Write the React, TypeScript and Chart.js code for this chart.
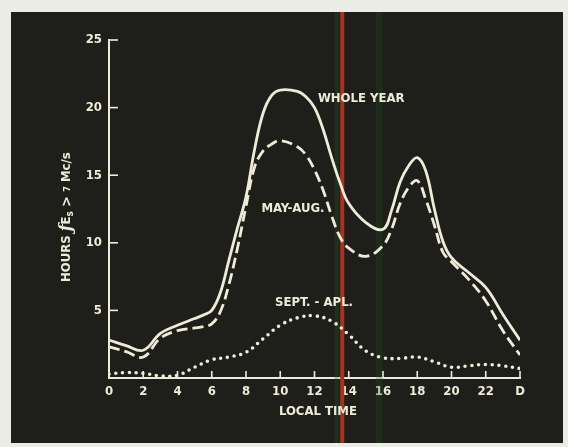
import React, { useEffect, useRef } from 'react';
import { Chart, registerables } from 'chart.js';

Chart.register(...registerables);

// Local time (hours) for the two upper curves
const hoursMain = [0, 1, 2, 3, 4, 5, 5.5, 6, 6.5, 7, 7.5, 8, 8.5, 9, 9.5, 10, 11, 11.5, 12, 12.5, 13, 13.5, 14, 15, 16, 16.5, 17, 17.5, 18, 18.5, 19, 19.5, 20, 21, 22, 23, 24];
const wholeYear = [2.8, 2.4, 2.05, 3.3, 3.9, 4.4, 4.65, 5.0, 6.3, 8.7, 11.1, 13.4, 16.9, 19.6, 20.9, 21.3, 21.2, 20.8, 20.0, 18.4, 16.3, 14.4, 12.9, 11.5, 11.0, 12.4, 14.5, 15.7, 16.3, 15.3, 12.5, 10.1, 8.9, 7.8, 6.7, 4.7, 2.8];
const mayAug = [2.3, 1.95, 1.55, 2.95, 3.5, 3.7, 3.8, 4.0, 4.9, 6.9, 9.6, 12.7, 15.6, 16.8, 17.3, 17.55, 17.1, 16.5, 15.4, 13.9, 12.0, 10.4, 9.6, 9.0, 9.8, 11.0, 12.9, 14.1, 14.6, 13.2, 11.3, 9.3, 8.6, 7.3, 5.7, 3.5, 1.7];

// Hourly for the dotted curve
const hoursSept = [0, 1, 2, 3, 4, 5, 6, 7, 8, 9, 10, 11, 12, 13, 14, 15, 16, 17, 18, 19, 20, 21, 22, 23, 24];
const septApl = [0.3, 0.4, 0.35, 0.15, 0.2, 0.8, 1.35, 1.55, 1.9, 2.9, 3.9, 4.45, 4.6, 4.2, 3.2, 2.0, 1.5, 1.45, 1.55, 1.2, 0.8, 0.9, 1.0, 0.9, 0.7];

const xTickLabels: Record<number, string> = { 0: '0', 2: '2', 4: '4', 6: '6', 8: '8', 10: '10', 12: '12', 14: '14', 16: '16', 18: '18', 20: '20', 22: '22', 24: 'D' };
const yTickValues = [5, 10, 15, 20, 25];

const seriesLabels = ['WHOLE YEAR', 'MAY-AUG.', 'SEPT. - APL.'];

const INK = '#efebd9';
const FONT = "'DejaVu Sans Condensed', 'DejaVu Sans', sans-serif";

function toXY(xs: number[], ys: number[]) {
  return xs.map((x, i) => ({ x, y: ys[i] }));
}

const decorPlugin = {
  id: 'decor',
  beforeDatasetsDraw(chart: any) {
    const { ctx, scales } = chart;
    const xs = scales.x;
    const h = chart.height;
    ctx.save();
    // scan artefacts (vertical colour streaks)
    ctx.fillStyle = 'rgba(40,90,40,0.3)';
    ctx.fillRect(xs.getPixelForValue(13.3) - 2, 0, 4, h);
    ctx.fillStyle = '#a8321f';
    ctx.fillRect(xs.getPixelForValue(13.62) - 2, 0, 4, h);
    ctx.fillStyle = 'rgba(35,85,35,0.25)';
    ctx.fillRect(xs.getPixelForValue(15.75) - 3, 0, 7, h);
    ctx.restore();
  },
  afterDraw(chart: any) {
    const { ctx, scales, chartArea } = chart;
    const xs = scales.x;
    const ys = scales.y;
    ctx.save();
    ctx.strokeStyle = INK;
    ctx.lineWidth = 1.6;
    // inward tick marks
    Object.keys(xTickLabels).map(Number).forEach((v) => {
      if (v === 0) return;
      const px = xs.getPixelForValue(v);
      ctx.beginPath();
      ctx.moveTo(px, chartArea.bottom);
      ctx.lineTo(px, chartArea.bottom - 7);
      ctx.stroke();
    });
    yTickValues.forEach((v) => {
      const py = ys.getPixelForValue(v);
      ctx.beginPath();
      ctx.moveTo(chartArea.left, py);
      ctx.lineTo(chartArea.left + 9, py);
      ctx.stroke();
    });

    ctx.fillStyle = INK;
    // axis titles
    ctx.font = `bold 13px ${FONT}`;
    ctx.textAlign = 'center';
    ctx.textBaseline = 'middle';
    ctx.fillText('LOCAL TIME', xs.getPixelForValue(12.2), chartArea.bottom + 34);

    // rotated y title with rich parts
    const parts = [
      { t: 'HOURS ', f: `bold 13px ${FONT}`, dy: 0 },
      { t: 'ƒ', f: `italic bold 16px 'DejaVu Serif', serif`, dy: 0 },
      { t: 'E', f: `bold 13px ${FONT}`, dy: 0 },
      { t: 's', f: `bold 10px ${FONT}`, dy: 3 },
      { t: ' > ', f: `bold 14px ${FONT}`, dy: 0 },
      { t: '7', f: `bold 9px ${FONT}`, dy: 1 },
      { t: ' Mc/s', f: `bold 13px ${FONT}`, dy: 0 },
    ];
    let total = 0;
    parts.forEach((p) => { ctx.font = p.f; total += ctx.measureText(p.t).width; });
    ctx.translate(chartArea.left - 42, ys.getPixelForValue(11.9));
    ctx.rotate(-Math.PI / 2);
    ctx.textAlign = 'left';
    let cx = -total / 2;
    parts.forEach((p) => {
      ctx.font = p.f;
      ctx.fillText(p.t, cx, p.dy);
      cx += ctx.measureText(p.t).width;
    });
    ctx.restore();

    // curve labels
    ctx.save();
    ctx.fillStyle = INK;
    ctx.font = `bold 13px ${FONT}`;
    ctx.textAlign = 'left';
    ctx.textBaseline = 'middle';
    ctx.fillText(seriesLabels[0], xs.getPixelForValue(12.2), ys.getPixelForValue(20.7));
    ctx.fillText(seriesLabels[1], xs.getPixelForValue(8.9), ys.getPixelForValue(12.5));
    ctx.fillText(seriesLabels[2], xs.getPixelForValue(9.7), ys.getPixelForValue(5.55));
    ctx.restore();
  },
};

export default function App() {
  const ref = useRef<HTMLCanvasElement | null>(null);

  useEffect(() => {
    if (!ref.current) return;
    const chart = new Chart(ref.current, {
      type: 'line',
      data: {
        datasets: [
          {
            label: seriesLabels[0],
            data: toXY(hoursMain, wholeYear),
            borderColor: INK,
            borderWidth: 2.8,
            pointRadius: 0,
            tension: 0.4,
            fill: false,
          },
          {
            label: seriesLabels[1],
            data: toXY(hoursMain, mayAug),
            borderColor: INK,
            borderWidth: 2.8,
            borderDash: [11, 5],
            pointRadius: 0,
            tension: 0.4,
            fill: false,
          },
          {
            label: seriesLabels[2],
            data: toXY(hoursSept, septApl),
            borderColor: INK,
            borderWidth: 3.6,
            borderDash: [0, 6.8],
            borderCapStyle: 'round',
            pointRadius: 0,
            tension: 0.4,
            fill: false,
          },
        ],
      } as any,
      options: {
        responsive: false,
        animation: false,
        layout: { padding: { left: 0, top: 28, right: 43, bottom: 0 } },
        plugins: { legend: { display: false }, tooltip: { enabled: false } },
        scales: {
          x: {
            type: 'linear',
            min: 0,
            max: 24,
            grid: { display: false, drawTicks: false },
            border: { display: true, color: INK, width: 2 },
            afterFit: (s: any) => { s.height = 65; },
            ticks: {
              stepSize: 2,
              padding: 6,
              color: INK,
              font: { family: FONT, size: 13, weight: 'bold' },
              maxRotation: 0,
              callback: (v: any) => xTickLabels[Number(v)] ?? '',
            },
          },
          y: {
            type: 'linear',
            min: 0,
            max: 25,
            grid: { display: false, drawTicks: false },
            border: { display: true, color: INK, width: 2 },
            afterFit: (s: any) => { s.width = 98; },
            ticks: {
              stepSize: 5,
              padding: 7,
              color: INK,
              font: { family: FONT, size: 13, weight: 'bold' },
              callback: (v: any) => (yTickValues.includes(Number(v)) ? String(v) : ''),
            },
          },
        },
      } as any,
      plugins: [decorPlugin],
    });
    return () => chart.destroy();
  }, []);

  return (
    <div style={{ position: 'fixed', left: 0, top: 0, width: 568, height: 447, background: '#ecece6', overflow: 'hidden' }}>
      <div style={{ position: 'absolute', left: 11, top: 12, width: 552, height: 431, background: '#1e1f1a' }}>
        <canvas ref={ref} width={552} height={431} style={{ display: 'block' }} />
      </div>
    </div>
  );
}
